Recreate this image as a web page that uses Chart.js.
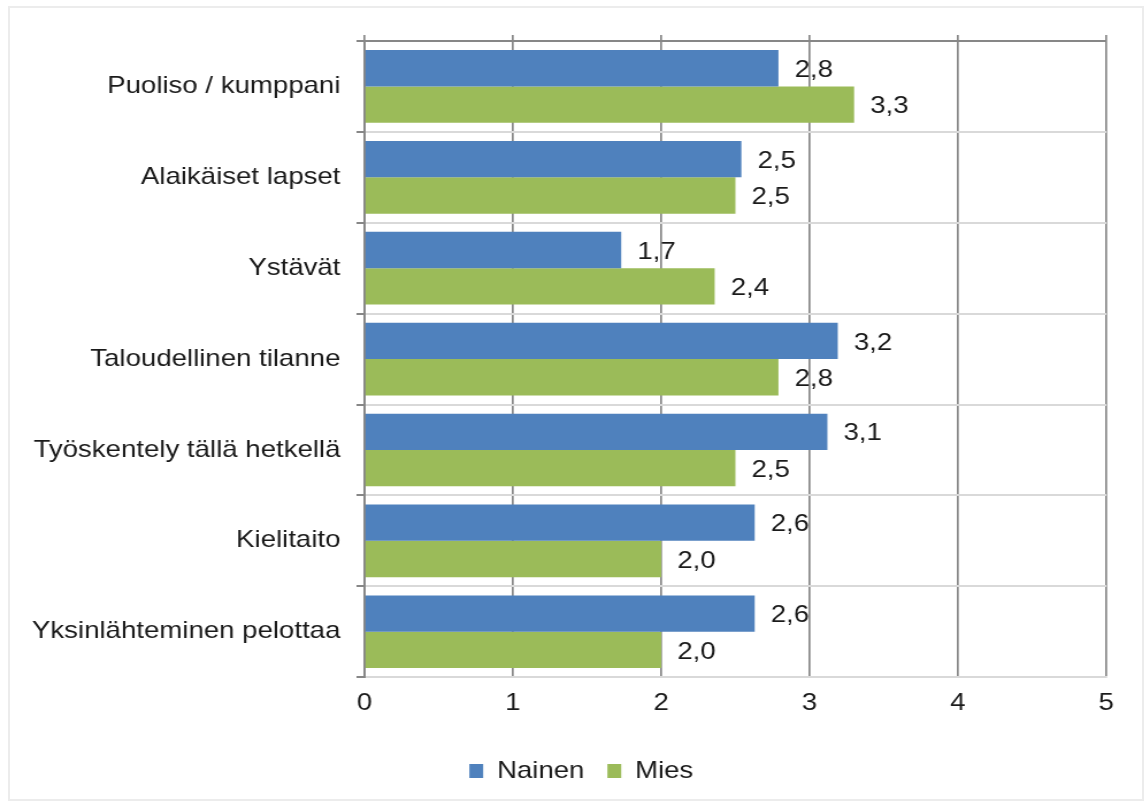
<!DOCTYPE html>
<html><head><meta charset="utf-8">
<script src="https://cdn.jsdelivr.net/npm/chart.js@4/dist/chart.umd.min.js"></script>
<style>
html,body{margin:0;padding:0;background:#fff;width:1144px;height:805px;overflow:hidden}
#frame{position:absolute;left:8px;top:6px;width:1136px;height:795px;border:2px solid #ececec;box-sizing:border-box}
#wrap{position:absolute;left:0;top:0;width:995px;height:805px;transform:scaleX(1.15);transform-origin:0 0}
canvas{display:block}
</style></head><body>
<div id="frame"></div>
<div id="wrap"><canvas id="c" width="995" height="805" style="width:995px;height:805px"></canvas></div>
<script>
const categories = ["Puoliso / kumppani", "Alaikäiset lapset", "Ystävät", "Taloudellinen tilanne", "Työskentely tällä hetkellä", "Kielitaito", "Yksinlähteminen pelottaa"];
const seriesNames = ["Nainen", "Mies"];
const nainen = [2.79, 2.54, 1.73, 3.19, 3.12, 2.63, 2.63];
const mies = [3.30, 2.50, 2.36, 2.79, 2.50, 2.00, 2.00];
const xMin = 0, xMax = 5, xStep = 1;

const FONT = "'Liberation Sans', Arial, sans-serif";
const TEXT = '#1a1a1a';
const DARK = '#878787';
const LIGHT = '#d9d9d9';

const valueLabels = {
  id: 'valueLabels',
  afterDatasetsDraw(chart) {
    const ctx = chart.ctx;
    ctx.save();
    ctx.font = "24px " + FONT;
    ctx.fillStyle = TEXT;
    ctx.textAlign = 'left';
    ctx.textBaseline = 'middle';
    chart.data.datasets.forEach((ds, di) => {
      chart.getDatasetMeta(di).data.forEach((el, i) => {
        ctx.fillText(ds.data[i].toFixed(1).replace('.', ','), el.x + 14, el.y + 2);
      });
    });
    ctx.restore();
  }
};

// let long category labels extend past the layout padding without being clipped
const unclipLabels = {
  id: 'unclipLabels',
  afterLayout(chart) { chart.scales.y.left = 0; }
};

Chart.defaults.font.family = FONT;
Chart.defaults.font.size = 24;
Chart.defaults.color = TEXT;

new Chart(document.getElementById('c'), {
  type: 'bar',
  data: {
    labels: categories,
    datasets: [
      { label: seriesNames[0], data: nainen, backgroundColor: '#4F81BD', borderWidth: 0 },
      { label: seriesNames[1], data: mies, backgroundColor: '#9BBB59', borderWidth: 0 }
    ]
  },
  options: {
    indexAxis: 'y',
    responsive: false,
    devicePixelRatio: 1,
    animation: false,
    categoryPercentage: 0.8,
    barPercentage: 1.0,
    layout: { padding: { left: 49, right: 33, top: 35, bottom: 12 } },
    plugins: {
      legend: {
        position: 'bottom',
        labels: { boxWidth: 12, boxHeight: 14, padding: 20, font: { size: 24 }, color: TEXT }
      },
      tooltip: { enabled: false }
    },
    scales: {
      x: {
        type: 'linear', position: 'bottom', min: xMin, max: xMax,
        ticks: { stepSize: xStep, padding: 12, font: { size: 24 }, color: TEXT },
        grid: { color: DARK, lineWidth: 1.7, drawTicks: false },
        border: { color: LIGHT, width: 2 },
        afterFit(scale) { scale.height += 9; }
      },
      x2: {
        type: 'linear', position: 'top', min: xMin, max: xMax,
        ticks: { display: false, stepSize: xStep },
        grid: { color: DARK, lineWidth: 1.7, drawOnChartArea: false, tickLength: 6 },
        border: { display: false }
      },
      y: {
        ticks: { padding: 14, font: { size: 24 }, color: TEXT },
        grid: {
          color: (c) => c.index === 0 ? DARK : LIGHT,
          lineWidth: 2, tickColor: DARK, tickLength: 7
        },
        border: { color: DARK, width: 2 },
        afterFit(scale) { scale.width = 268; }
      }
    }
  },
  plugins: [valueLabels, unclipLabels]
});
</script>
</body></html>
